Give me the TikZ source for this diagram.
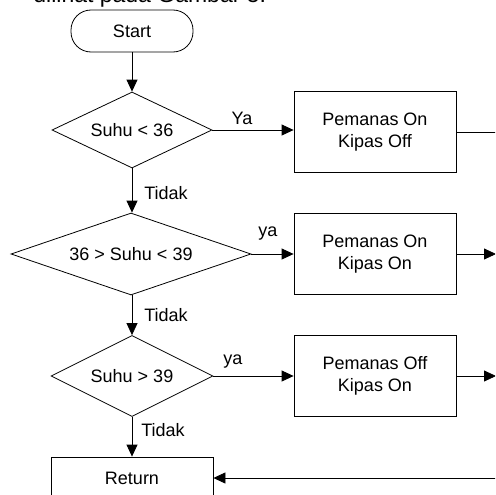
\documentclass[tikz,border=0pt]{standalone}
\usepackage{fontspec}
\setmainfont{Liberation Sans}
\usetikzlibrary{shapes.geometric,arrows.meta}
\begin{document}
\begin{tikzpicture}[x=1pt,y=-1pt,line width=0.8pt,
 every node/.style={font=\fontsize{18}{22}\selectfont},
 term/.style={draw,rectangle,rounded corners=20pt,minimum width=122pt,minimum height=42pt,inner sep=0pt},
 decision/.style={draw,diamond,inner sep=0pt},
 proc/.style={draw,rectangle,minimum width=162pt,minimum height=81pt,align=center,inner sep=0pt},
 lbl/.style={inner sep=0pt},
 flow/.style={draw,-{Triangle[length=12pt,width=11pt]}},
 plain/.style={draw}]
\useasboundingbox (0,0) rectangle (495,495);
\clip (0,0) rectangle (495,495);
\node[lbl,anchor=base west,font=\fontsize{23}{27}\selectfont] (top) at (33,3) {dilihat pada Gambar 5.};
\node[term] (start) at (132,31) {Start};
\node[decision,aspect=2.1,minimum width=160pt,minimum height=76pt] (d1) at (132,130) {Suhu < 36};
\node[decision,aspect=2.9,minimum width=240pt,minimum height=82pt] (d2) at (131,254) {36 > Suhu < 39};
\node[decision,aspect=2,minimum width=162pt,minimum height=81pt] (d3) at (132,376) {Suhu > 39};
\node[proc] (b1) at (375,132) {Pemanas On\\Kipas Off};
\node[proc] (b2) at (375,254) {Pemanas On\\Kipas On};
\node[proc] (b3) at (375,376) {Pemanas Off\\Kipas On};
\node[draw,rectangle,minimum width=162pt,minimum height=42pt,inner sep=0pt] (ret) at (132,478) {Return};
\coordinate (e1) at (500,132);
\coordinate (e2) at (496,254);
\coordinate (e3) at (496,376);
\coordinate (e4) at (500,478);
\path[flow] (start) -- (d1);
\path[flow] (d1) -- (d2.north -| d1.south);
\path[flow] (d2.south -| d1.south) -- (d3);
\path[flow] (d3) -- (ret);
\path[flow] (d1.east) -- (b1.west |- d1.east);
\path[flow] (d2.east) -- (b2.west |- d2.east);
\path[flow] (d3.east) -- (b3.west |- d3.east);
\path[plain] (b1.east) -- (e1);
\path[flow] (b2.east) -- (e2);
\path[flow] (b3.east) -- (e3);
\path[flow] (e4) -- (ret.east |- e4);
\node[lbl] (l1) at (242,118) {Ya};
\node[lbl] (l2) at (268,234) {ya};
\node[lbl] (l3) at (233,362) {ya};
\node[lbl] (t1) at (166,193) {Tidak};
\node[lbl] (t2) at (166,315) {Tidak};
\node[lbl] (t3) at (163,430) {Tidak};
\end{tikzpicture}
\end{document}
